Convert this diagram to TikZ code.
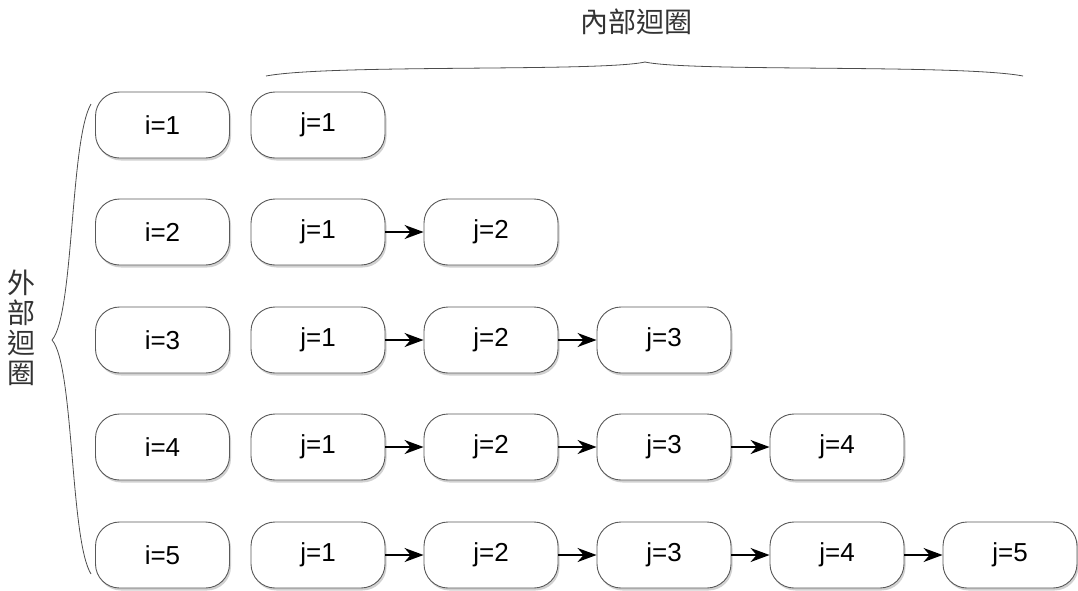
\documentclass[tikz,border=0pt]{standalone}
\usepackage{fontspec}
\setmainfont{Liberation Sans}
\newfontfamily\cjk{Noto Sans CJK TC}
\usetikzlibrary{arrows.meta,shadows}
\begin{document}
\begin{tikzpicture}[x=1pt,y=-1pt,
  box/.style={draw=black!65, line width=0.9pt, rounded corners=24pt, fill=white,
    minimum width=134pt, minimum height=66pt, inner sep=0pt,
    font=\fontsize{26}{30}\selectfont,
    drop shadow={shadow xshift=1.5pt, shadow yshift=-2.5pt, opacity=0.18, fill=black}},
  arr/.style={line width=1.6pt, -{Stealth[length=19pt,width=14pt,inset=6pt]}},
  brace/.style={draw=black!70, line width=0.8pt},
  cjklab/.style={font=\cjk\fontsize{28}{30}\selectfont, text=black!80}]
\useasboundingbox (0,0) rectangle (1078,590);
% outer column
\foreach \r/\y in {1/125,2/232,3/340,4/447,5/555}{
  \node[box] (i\r) at (162.5,\y) {i=\r};
}
% inner columns
\foreach \r/\y in {1/125,2/232,3/340,4/447,5/555}{
  \foreach \c in {1,...,\r}{
    \pgfmathsetmacro{\xx}{318+173*(\c-1)}
    \node[box] (j\r\c) at (\xx,\y) {j=\c};
  }
}
\foreach \r in {2,...,5}{
  \foreach \c [evaluate=\c as \n using int(\c+1)] in {1,...,\r}{
    \ifnum\c<\r
      \draw[arr] (j\r\c.east) -- (j\r\n.west);
    \fi
  }
}
% top brace
\coordinate (tl) at (266,76);
\coordinate (tt) at (645,62);
\coordinate (tr) at (1023,76);
\draw[brace] (tl) .. controls (330,64) and (600,72) .. (tt)
  .. controls (690,72) and (960,64) .. (tr);
\node[cjklab] (inner) at (636,22) {內部迴圈};
% left brace
\coordinate (lt) at (91,104);
\coordinate (lm) at (52,340);
\coordinate (lb) at (91,574);
\draw[brace] (lt) .. controls (70,140) and (74,315) .. (lm)
  .. controls (74,365) and (70,540) .. (lb);
\node[cjklab, align=center, inner sep=0pt] (outer) at (21,328) {外\\部\\迴\\圈};
\end{tikzpicture}
\end{document}
